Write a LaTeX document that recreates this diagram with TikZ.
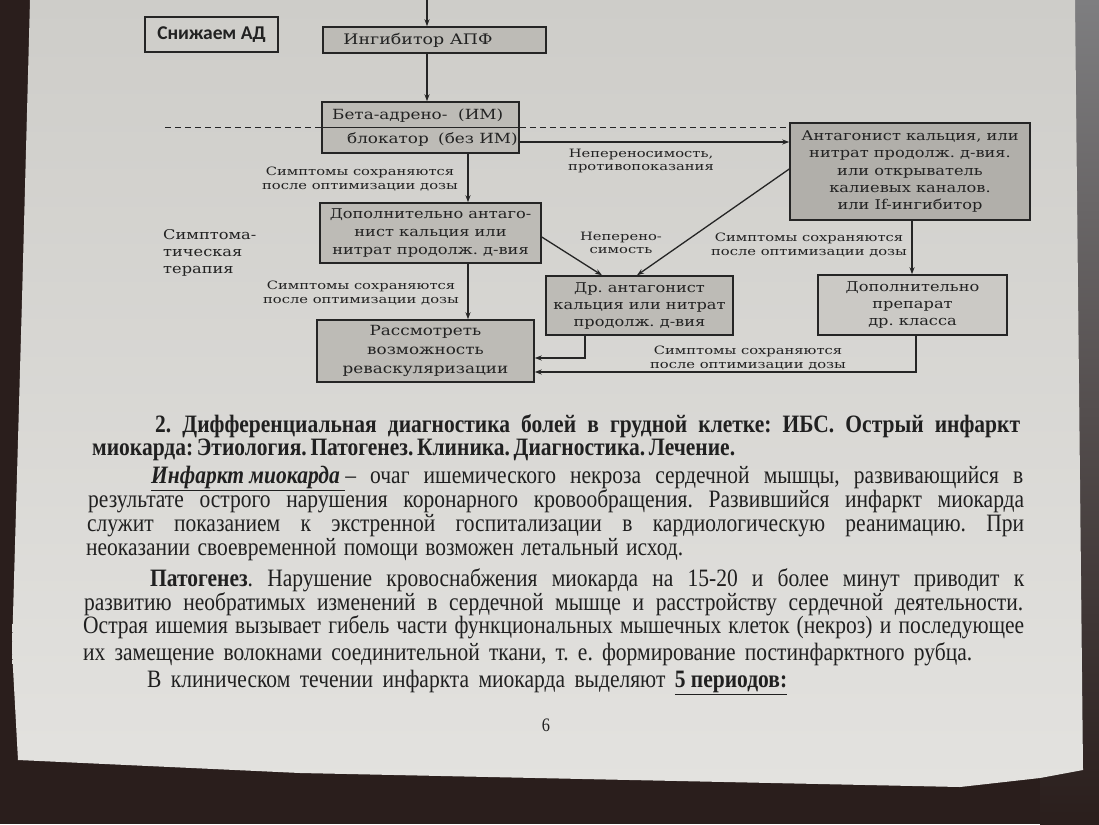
\documentclass[tikz,border=0pt]{standalone}
\usepackage{fontspec}
\setmainfont{Liberation Serif}[FakeStretch=0.86]
\newfontfamily\hfont{Liberation Serif}[FakeStretch=0.86]
\newfontfamily\dfont{DejaVu Serif}[FakeStretch=1.2]
\newfontfamily\lfont{DejaVu Serif}[FakeStretch=1.28]
\newfontfamily\sfont{Carlito}
\usetikzlibrary{arrows.meta}
\definecolor{bgdark}{HTML}{2A1E1C}
\definecolor{strip}{HTML}{7E7E80}
\definecolor{pagetop}{HTML}{CECDC9}
\definecolor{pagemid}{HTML}{D8D7D3}
\definecolor{pagebot}{HTML}{E3E2DF}
\definecolor{lc}{HTML}{252525}
\definecolor{dtxt}{HTML}{222222}
\definecolor{boxfill}{HTML}{BDBBB6}
\definecolor{boxdark}{HTML}{B1AFAA}
\definecolor{boxlight}{HTML}{CBC9C5}
\definecolor{txt}{HTML}{202020}
\newcommand\jl[2]{\makebox[#1pt][s]{#2}}
\frenchspacing
\tikzset{
  box/.style={draw=lc, line width=1.5pt, inner sep=0pt, align=center, text=dtxt,
    font=\dfont\fontsize{14}{18}\selectfont},
  shadedbox/.style={box, fill=boxfill},
  dtext/.style={inner sep=0pt, align=center, text=dtxt, font=\dfont\fontsize{14}{18}\selectfont},
  lab/.style={inner sep=0pt, align=center, text=dtxt, font=\lfont\fontsize{11.5}{13.5}\selectfont},
  arr/.style={draw=lc, line width=1.3pt, -{Stealth[length=7pt,width=5pt]}},
  conn/.style={draw=lc, line width=1.3pt},
  bodyline/.style={anchor=base west, inner sep=0pt, text=txt, font=\frenchspacing\fontsize{25}{28}\selectfont},
  headline/.style={bodyline, font=\frenchspacing\hfont\bfseries\fontsize{25}{28}\selectfont}
}
\begin{document}
\begin{tikzpicture}[x=1pt, y=-1pt]
\useasboundingbox (0,0) rectangle (1099,824);
% background and page
\fill[bgdark] (0,0) rectangle (1099,824);
\shade[top color=strip, middle color=strip!85!bgdark, bottom color=bgdark] (1040,0) rectangle (1099,824);
\shade[top color=pagetop, middle color=pagemid, bottom color=pagebot]
  (30,0) -- (1075,0) -- (1083,770) -- (1040,778) -- (960,787) -- (300,773) -- (18,760) -- (12,650) -- (22,300) -- cycle;

% ---------- diagram ----------
\node[box, minimum width=133pt, minimum height=35pt, font=\sfont\bfseries\fontsize{19.5}{22}\selectfont] (snizh) at (211.5,34.5) {Снижаем АД};

\node[shadedbox, minimum width=223pt, minimum height=26pt] (ingib) at (434.5,40) {};
\node[dtext, font=\dfont\fontsize{14.5}{18}\selectfont] (ingibt) at (418,40.5) {Ингибитор АПФ};

\node[shadedbox, minimum width=197pt, minimum height=51pt] (beta) at (420.5,127.5) {};
\draw[conn, line width=1.2pt] (beta.west) -- (beta.east);
\node[dtext, anchor=base west] (bt1) at (332,120) {Бета-адрено-};
\node[dtext, anchor=base west] (bt2) at (458,120) {(ИМ)};
\node[dtext, anchor=base west] (bb1) at (347,143) {блокатор};
\node[dtext, anchor=base west] (bb2) at (438,143) {(без ИМ)};

\node[box, fill=boxdark, minimum width=240pt, minimum height=97pt, font=\dfont\fontsize{13.5}{17.2}\selectfont] (antag) at (910,171.5)
  {Антагонист кальция, или\\нитрат продолж. д-вия.\\или открыватель\\калиевых каналов.\\или If-ингибитор};

\node[shadedbox, minimum width=221pt, minimum height=60pt, font=\dfont\fontsize{13.5}{18}\selectfont] (dop1) at (430.5,233)
  {Дополнительно антаго-\\нист кальция или\\нитрат продолж. д-вия};

\node[shadedbox, minimum width=217pt, minimum height=62pt, font=\dfont\fontsize{14}{19}\selectfont] (rassm) at (425.5,351)
  {Рассмотреть\\возможность\\реваскуляризации};

\node[shadedbox, minimum width=187pt, minimum height=59pt, font=\dfont\fontsize{13.5}{17}\selectfont] (dran) at (639.5,305.5)
  {Др. антагонист\\кальция или нитрат\\продолж. д-вия};

\node[box, fill=boxlight, minimum width=189pt, minimum height=60pt, font=\dfont\fontsize{13.5}{17}\selectfont] (dopprep) at (912.5,305)
  {Дополнительно\\препарат\\др. класса};

\node[dtext, align=left, anchor=north west, font=\dfont\fontsize{13.5}{17}\selectfont] (symp) at (163,229)
  {Симптома-\\тическая\\терапия};

% dashed separator
\coordinate (dl) at (165,127.5);
\draw[conn, line width=1.1pt, dash pattern=on 6pt off 4pt] (dl) -- (beta.west);
\draw[conn, line width=1.1pt, dash pattern=on 6pt off 4pt] (beta.east) -- (beta.east -| antag.west);

% connectors
\coordinate (topin) at (427,0);
\draw[arr] (topin) -- (topin |- ingib.north);
\draw[arr] (topin |- ingib.south) -- (topin |- beta.north);
\draw[arr] ([yshift=-14.5pt]beta.east) coordinate (be) -- (be -| antag.west);
\coordinate (cx) at (468,0);
\draw[arr] (cx |- beta.south) -- (cx |- dop1.north);
\draw[arr] (cx |- dop1.south) -- (cx |- rassm.north);
\draw[arr] ([yshift=-4pt]dop1.east) -- ([xshift=-37.5pt]dran.north);
\draw[arr] ([yshift=2.5pt]antag.west) -- ([xshift=-2.5pt]dran.north);
\coordinate (cx2) at (912,0);
\draw[arr] (cx2 |- antag.south) -- (cx2 |- dopprep.north);
\draw[arr] ([xshift=-54.5pt]dran.south) |- ([yshift=-7pt]rassm.east);
\draw[arr] ([xshift=3.5pt]dopprep.south) |- ([yshift=-21pt]rassm.east);

% connector labels
\node[lab] (lab1) at (360,179) {Симптомы сохраняются\\после оптимизации дозы};
\node[lab] (lab2) at (641,161) {Непереносимость,\\противопоказания};
\node[lab] (lab3) at (361,293) {Симптомы сохраняются\\после оптимизации дозы};
\node[lab] (lab4) at (621,243) {Неперено-\\симость};
\node[lab] (lab5) at (809,245) {Симптомы сохраняются\\после оптимизации дозы};
\node[lab] (lab6) at (748,358) {Симптомы сохраняются\\после оптимизации дозы};

% ---------- text ----------
\node[headline] (h1) at (155,432) {\jl{865}{2. Дифференциальная диагностика болей в грудной клетке: ИБС. Острый инфаркт}};
\node[headline] (h2) at (92,455) {\jl{643}{миокарда: Этиология. Патогенез. Клиника. Диагностика. Лечение.}};
\node[bodyline] (p1a) at (151,483) {\jl{872}{\underline{\textbf{\textit{Инфаркт миокарда }}}– очаг ишемического некроза сердечной мышцы, развивающийся в}};
\node[bodyline] (p1b) at (88,507.5) {\jl{936}{результате острого нарушения коронарного кровообращения. Развившийся инфаркт миокарда}};
\node[bodyline] (p1c) at (87,531) {\jl{937}{служит показанием к экстренной госпитализации в кардиологическую реанимацию. При}};
\node[bodyline] (p1d) at (86,555) {\jl{597}{неоказании своевременной помощи возможен летальный исход.}};
\node[bodyline] (p2a) at (150,586) {\jl{874}{\textbf{Патогенез}. Нарушение кровоснабжения миокарда на 15-20 и более минут приводит к}};
\node[bodyline] (p2b) at (84,610) {\jl{939}{развитию необратимых изменений в сердечной мышце и расстройству сердечной деятельности.}};
\node[bodyline] (p2c) at (83,633) {\jl{941}{Острая ишемия вызывает гибель части функциональных мышечных клеток (некроз) и последующее}};
\node[bodyline] (p2d) at (83,660) {\jl{889}{их замещение волокнами соединительной ткани, т. е. формирование постинфарктного рубца.}};
\node[bodyline] (p3) at (147,687) {\jl{640}{В клиническом течении инфаркта миокарда выделяют \underline{\textbf{5 периодов:}}}};
\node[bodyline, anchor=base, font=\fontsize{19}{20}\selectfont] (pg) at (546,731) {6};
\end{tikzpicture}
\end{document}
